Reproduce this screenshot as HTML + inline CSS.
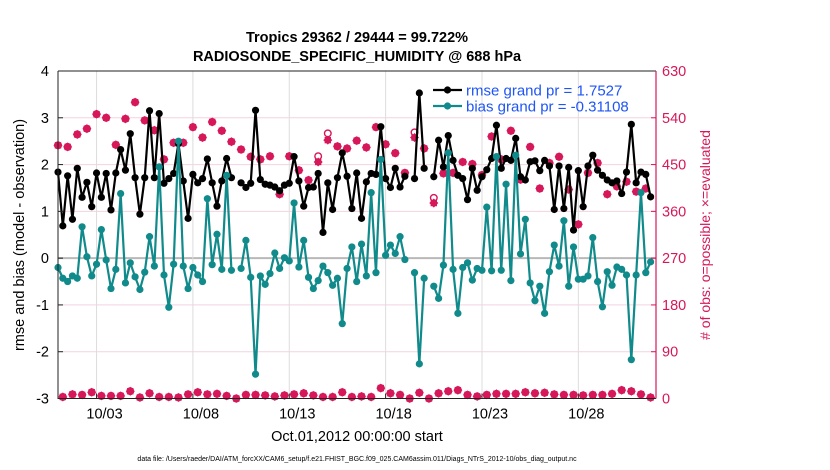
<!DOCTYPE html>
<html><head><meta charset="utf-8">
<style>
html,body{margin:0;padding:0;background:#fff;}
svg{display:block;font-family:"Liberation Sans",Arial,sans-serif;}
</style></head>
<body>
<svg id="chart" width="830" height="470" viewBox="0 0 830 470" xmlns="http://www.w3.org/2000/svg">
  <g id="grid"></g>
  <g id="counts"></g>
  <g id="series"></g>
  <g id="axes"></g>
  <text x="357" y="42" text-anchor="middle" font-size="14.5" font-weight="bold">Tropics 29362 / 29444 = 99.722%</text>
  <text x="357" y="61" text-anchor="middle" font-size="14.5" font-weight="bold">RADIOSONDE_SPECIFIC_HUMIDITY @ 688 hPa</text>
  <text transform="translate(24,235) rotate(-90)" text-anchor="middle" font-size="14.5">rmse and bias (model - observation)</text>
  <text transform="translate(710,235) rotate(-90)" text-anchor="middle" font-size="14" fill="#d6185a"># of obs: o=possible; ×=evaluated</text>
  <text x="357" y="441" text-anchor="middle" font-size="14.5">Oct.01,2012 00:00:00 start</text>
  <text x="357" y="461" text-anchor="middle" font-size="7">data file: /Users/raeder/DAI/ATM_forcXX/CAM6_setup/f.e21.FHIST_BGC.f09_025.CAM6assim.011/Diags_NTrS_2012-10/obs_diag_output.nc</text>
  <g id="legend"></g>
</svg>
<script>
const rmse=[1.84,0.69,1.76,0.83,1.92,1.30,1.62,1.10,1.82,1.30,1.81,1.03,1.82,2.32,1.88,2.66,1.72,0.94,1.72,3.15,1.72,3.09,1.60,
1.70,1.81,2.45,1.65,0.85,1.79,1.61,1.70,2.12,1.61,1.11,1.65,2.13,1.72,null,1.61,1.51,1.60,3.16,1.68,1.58,
1.56,1.52,1.44,1.56,1.60,2.17,1.65,1.11,1.51,1.52,1.81,0.55,1.61,1.04,1.72,2.25,1.75,1.06,1.82,0.85,1.63,1.81,
1.79,2.81,1.70,1.51,1.92,1.52,1.75,null,1.70,3.53,1.92,null,1.74,2.52,1.95,2.62,2.09,1.77,1.70,1.25,1.92,1.45,
1.74,1.89,2.13,2.84,1.92,2.13,2.09,2.56,1.74,1.67,2.06,2.08,1.87,2.09,1.97,1.04,1.97,1.06,1.94,0.60,1.87,1.10,
1.97,2.20,1.88,1.77,1.67,1.61,1.65,1.38,1.84,2.86,1.61,1.84,1.79,1.31];
const bias=[-0.2,-0.43,-0.5,-0.38,-0.43,0.67,0.03,-0.38,-0.13,0.61,-0.04,-0.65,-0.24,1.38,-0.53,-0.1,-0.4,-0.67,-0.3,0.46,-0.17,1.95,-0.36,
-1.05,-0.13,2.5,-0.17,-0.65,-0.2,-0.36,-0.5,1.27,-0.14,0.51,-0.24,1.77,-0.26,null,-0.22,0.38,-0.41,-2.48,-0.38,-0.56,
-0.33,0.11,-0.22,0.01,-0.06,1.18,-0.19,0.38,-0.41,-0.65,-0.48,-0.17,-0.31,-0.58,-0.43,-1.4,-0.22,0.24,-0.5,0.3,-0.38,1.4,
-0.31,2.11,0.06,0.28,0.1,0.46,-0.03,null,-0.31,-2.26,-0.43,null,-0.6,-0.86,-0.15,2.25,-0.24,-1.18,-0.2,-0.1,-0.47,-0.22,
-0.26,1.09,-0.27,2.17,-0.26,1.58,-0.48,2.2,0.09,0.83,-0.53,-0.91,-0.6,-1.18,-0.29,0.28,-0.17,0.8,-0.6,0.24,-0.45,-0.45,
-0.38,0.44,-0.5,-1.04,-0.29,-0.58,-0.19,-0.24,-0.36,-2.17,-0.36,1.4,-0.31,-0.08];
const evaluated=[487,3,484,8,508,7,519,12,547,5,540,5,488,5,538,14,570,2,535,10,516,3,460,
3,492,2,492,8,522,12,502,8,532,9,515,5,494,0,479,7,465,7,460,6,
466,4,393,6,466,8,439,10,420,6,455,3,497,3,485,12,481,3,496,4,483,3,
522,20,489,10,472,7,434,0,502,11,481,0,376,10,433,14,434,16,455,7,451,4,
430,7,504,9,460,9,515,9,421,12,484,10,404,11,453,8,465,7,402,7,335,6,
434,7,453,7,393,9,408,16,417,14,398,8,404,2];
const possible=[487,3,484,8,508,7,519,12,547,5,540,5,488,5,538,14,570,2,535,10,516,3,460,
3,492,2,492,8,522,12,502,8,532,9,515,5,494,0,479,7,465,7,460,6,
466,4,393,6,466,8,439,10,420,6,466,3,510,3,485,12,481,3,496,4,483,3,
522,20,489,10,472,7,434,0,512,11,481,0,386,10,433,14,434,16,455,7,451,4,
430,7,504,9,460,9,515,9,421,12,484,10,404,11,453,8,465,7,402,7,335,6,
434,7,453,7,393,9,408,16,417,14,398,8,404,2];
const yTicks=[-3,-2,-1,0,1,2,3,4];
const countTicks=[0,90,180,270,360,450,540,630];
const xTickDays=[2,7,12,17,22,27];
const xTickLabels=["10/03","10/08","10/13","10/18","10/23","10/28"];

const NS="http://www.w3.org/2000/svg";
const L=58,R=656,T=71,B=398.5;
const dayStart=0,dayEnd=31.03;
function xs(d){return L+(d-dayStart)/(dayEnd-dayStart)*(R-L);}
function ys(v){return B-(v+3)/7*(B-T);}
function yc(c){return B-c/630*(B-T);}
function mk(tag,attrs,parent){const e=document.createElementNS(NS,tag);for(const k in attrs)e.setAttribute(k,attrs[k]);parent.appendChild(e);return e;}
const grid=document.getElementById('grid'),axes=document.getElementById('axes'),cg=document.getElementById('counts'),sg=document.getElementById('series'),lg=document.getElementById('legend');

yTicks.forEach((v,i)=>{
  const y=ys(v);
  const gl=mk('line',{x1:L,x2:R,y1:y,y2:y,stroke:v===0?'#b8b8b8':'#f3d3e0','stroke-width':v===0?2:1},grid);
  
  
  const tl=mk('line',{x1:L,x2:L+5,y1:y,y2:y,stroke:'#222'},axes);
  
  
  const t=mk('text',{x:L-9,y:y+5,'text-anchor':'end','font-size':14.5},axes);
  t.textContent=v;
  
  
});
countTicks.forEach(c=>{
  const y=yc(c);
  const tl=mk('line',{x1:R-5,x2:R,y1:y,y2:y,stroke:'#d6185a'},axes);
  
  
  const t=mk('text',{x:R+6,y:y+5,'font-size':14.5,fill:'#d6185a'},axes);
  t.textContent=c;
  
  
});
xTickDays.forEach((d,i)=>{
  const x=xs(d);
  const gl=mk('line',{x1:x,x2:x,y1:T,y2:B,stroke:'#dddddd'},grid);
  
  
  const tl=mk('line',{x1:x,x2:x,y1:B-5,y2:B,stroke:'#222'},axes);
  
  
  const t=mk('text',{x:x+8,y:B+20,'text-anchor':'middle','font-size':14.5},axes);
  t.textContent=xTickLabels[i];
  
  
});
const frame=mk('path',{d:`M${L},${T}H${R}M${L},${T}V${B}H${R}`,fill:'none',stroke:'#222','stroke-width':1},axes);


const rax=mk('line',{x1:R,x2:R,y1:T,y2:B,stroke:'#d6185a','stroke-width':1.2},axes);



function tday(i){return i*0.25;}
// counts
possible.forEach((c,i)=>{
  const x=xs(tday(i)),y=yc(c);
  const e=mk('circle',{cx:x,cy:y,r:3.3,fill:'none',stroke:'#d6185a','stroke-width':1.4},cg);
  
  
});
evaluated.forEach((c,i)=>{
  const x=xs(tday(i)),y=yc(c);
  const g=mk('g',{transform:`translate(${x},${y})`},cg);
  
  
  mk('rect',{x:-3.2,y:-3.2,width:6.4,height:6.4,fill:'#d6185a'},g);
  mk('rect',{x:-3.2,y:-3.2,width:6.4,height:6.4,fill:'#d6185a',transform:'rotate(45)'},g);
});
function drawSeries(vals,color,name){
  let d='',pen=false;
  vals.forEach((v,i)=>{
    if(v===null){pen=false;return;}
    d+=(pen?'L':'M')+xs(tday(i)).toFixed(2)+','+ys(v).toFixed(2);pen=true;
  });
  const p=mk('path',{d:d,fill:'none',stroke:color,'stroke-width':2.2,'stroke-linejoin':'round'},sg);
  
  
  vals.forEach((v,i)=>{
    if(v===null)return;
    const c=mk('circle',{cx:xs(tday(i)),cy:ys(v),r:3.6,fill:color},sg);
    
    
  });
}
drawSeries(rmse,'#000000','rmse');
drawSeries(bias,'#108a8a','bias');

// legend
[['rmse grand pr = 1.7527','#000000',90,'legend-entry-rmse'],['bias grand pr = -0.31108','#108a8a',106,'legend-entry-bias']].forEach(r=>{
  const g=mk('g',{},lg);
  
  
  mk('line',{x1:433,x2:462,y1:r[2],y2:r[2],stroke:r[1],'stroke-width':2.2},g);
  mk('circle',{cx:447.5,cy:r[2],r:3.6,fill:r[1]},g);
  const t=mk('text',{x:466,y:r[2]+5.5,'font-size':15,fill:'#1f55f5'},g);
  t.textContent=r[0];
});
</script>
</body></html>
